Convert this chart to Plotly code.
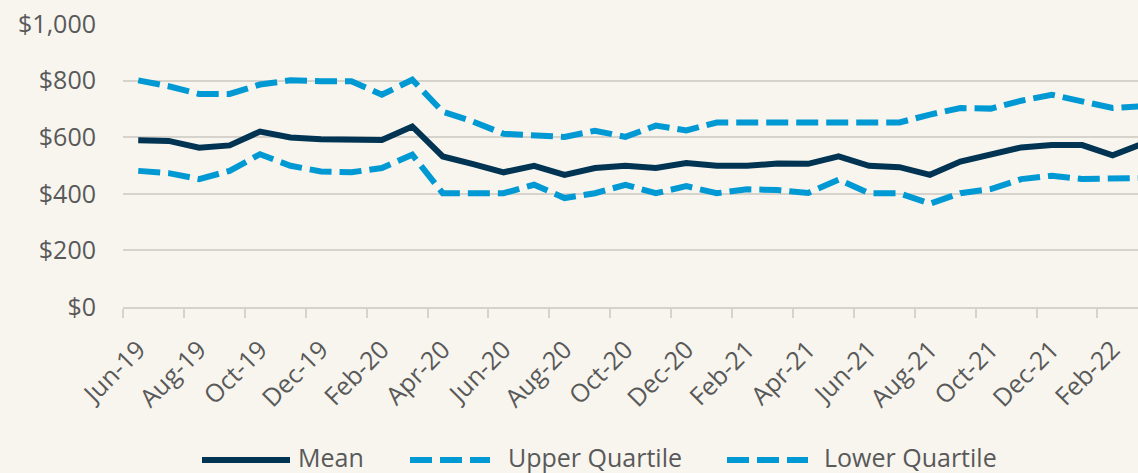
import plotly.graph_objects as go

months = ["Jun-19", "Jul-19", "Aug-19", "Sep-19", "Oct-19", "Nov-19", "Dec-19", "Jan-20",
          "Feb-20", "Mar-20", "Apr-20", "May-20", "Jun-20", "Jul-20", "Aug-20", "Sep-20",
          "Oct-20", "Nov-20", "Dec-20", "Jan-21", "Feb-21", "Mar-21", "Apr-21", "May-21",
          "Jun-21", "Jul-21", "Aug-21", "Sep-21", "Oct-21", "Nov-21", "Dec-21", "Jan-22",
          "Feb-22", "Mar-22"]
mean = [589, 587, 563, 571, 620, 599, 593, 593, 590, 638, 532, 505, 476, 499, 467, 491, 499,
        491, 509, 499, 499, 507, 506, 532, 499, 494, 467, 514, 538, 564, 572, 572, 536, 578]
upper = [801, 780, 753, 753, 786, 801, 798, 798, 750, 803, 690, 655, 612, 605, 601, 623, 601,
         641, 624, 652, 652, 652, 652, 652, 652, 652, 680, 703, 701, 729, 750, 727, 703, 710]
lower = [481, 473, 452, 481, 540, 499, 479, 476, 491, 538, 402, 400, 402, 432, 385, 402, 432,
         402, 427, 402, 416, 413, 403, 450, 402, 402, 365, 402, 417, 452, 464, 452, 452, 456]
series_names = ["Mean", "Upper Quartile", "Lower Quartile"]
y_ticks = [0, 200, 400, 600, 800, 1000]
y_tick_text = ["$0", "$200", "$400", "$600", "$800", "$1,000"]

W, H = 1138, 473
ML, MR, MT, MB = 123, 0, 24, 166
BG = "#F7F5EE"
GRID = "#D6D3CC"
TXT = "#595959"
NAVY = "#003452"
BLUE = "#0099D4"
FONT = "Open Sans"
DASH = "22px,8px"
LW = 6

idx = list(range(len(months)))
label_idx = [i for i in idx if i % 2 == 0]

fig = go.Figure()
styles = [dict(color=NAVY, width=LW), dict(color=BLUE, width=LW, dash=DASH),
          dict(color=BLUE, width=LW, dash=DASH)]
for name, vals, st in zip(series_names, [mean, upper, lower], styles):
    fig.add_trace(go.Scatter(x=idx, y=vals, mode="lines", name=name, line=st,
                             showlegend=False))

plot_w = W - ML - MR
plot_h = H - MT - MB
month_px = 30.45
x_max = -0.5 + plot_w / month_px

def px2paper(px, py):
    return (px - ML) / plot_w, (H - MB - py) / plot_h

# custom legend (long line samples like the original)
legend_items = [(202, 290, 297), (410, 490, 507), (727, 808, 823)]
shapes = []
annotations = []
for (x0, x1, tx), name, st in zip(legend_items, series_names, styles):
    a0, b = px2paper(x0, 460)
    a1, _ = px2paper(x1, 460)
    shapes.append(dict(type="line", xref="paper", yref="paper", x0=a0, x1=a1, y0=b, y1=b,
                       line=st))
    t, tb = px2paper(tx, 457)
    annotations.append(dict(text=name, x=t, y=tb, xref="paper", yref="paper",
                            xanchor="left", yanchor="middle", showarrow=False,
                            borderpad=0,
                            font=dict(family=FONT, size=25, color=TXT)))

fig.update_layout(
    width=W, height=H,
    margin=dict(l=ML, r=MR, t=MT, b=MB, pad=0),
    paper_bgcolor=BG, plot_bgcolor=BG,
    font=dict(family=FONT, size=25, color=TXT),
    shapes=shapes, annotations=annotations,
    xaxis=dict(range=[-0.5, x_max], tickmode="array", tickvals=label_idx,
               ticktext=[months[i] for i in label_idx], tickangle=-45, ticks="",
               showgrid=False, zeroline=False, showline=True, linecolor=GRID, linewidth=2,
               ticklabelstandoff=16, automargin=False,
               minor=dict(tickmode="array", tickvals=[i - 0.5 for i in label_idx],
                          ticks="outside", ticklen=9, tickcolor=GRID, tickwidth=2,
                          showgrid=False),
               tickfont=dict(family=FONT, size=25, color=TXT)),
    yaxis=dict(range=[0, 1000], tickmode="array", tickvals=y_ticks, ticktext=y_tick_text,
               showgrid=True, gridcolor=GRID, gridwidth=2, zeroline=False, showline=False,
               ticks="", ticklabelstandoff=26, automargin=False,
               tickfont=dict(family=FONT, size=25, color=TXT)),
)

fig.write_html("out.html", config={"displayModeBar": False},
               post_script="document.body.style.margin='0';document.body.style.overflow='hidden';")
